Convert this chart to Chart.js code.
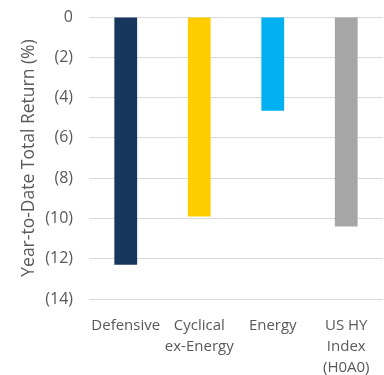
<!DOCTYPE html>
<html>
<head>
<meta charset="utf-8">
<script src="https://cdn.jsdelivr.net/npm/chart.js@4"></script>
<style>
  html, body { margin: 0; padding: 0; background: #ffffff; }
  #wrap { width: 384px; height: 375px; position: relative; }
</style>
</head>
<body>
<div id="wrap"><canvas id="c" width="384" height="375"></canvas></div>
<script>
// Sector groups and their year-to-date total return (%)
const categories = [
  ["Defensive"],
  ["Cyclical", "ex-Energy"],
  ["Energy"],
  ["US HY", "Index", "(H0A0)"]
];
const returns = [-12.3, -9.9, -4.65, -10.4];
const barColors = ["#17375E", "#FFCC00", "#00B0F0", "#A6A6A6"];
const yTicks = [0, -2, -4, -6, -8, -10, -12, -14];

const textColor = "#595959";
const fontFamily = "'Open Sans', 'Liberation Sans', sans-serif";

// Accounting-style labels: negatives in parentheses
function fmt(v) {
  if (v === 0) return "0";
  return v < 0 ? "(" + Math.abs(v) + ")" : String(v);
}

new Chart(document.getElementById("c"), {
  type: "bar",
  data: {
    labels: categories,
    datasets: [{
      data: returns,
      backgroundColor: barColors,
      borderWidth: 0,
      barPercentage: 0.31,
      categoryPercentage: 1.0
    }]
  },
  options: {
    responsive: false,
    animation: false,
    devicePixelRatio: 1,
    layout: { padding: { top: 17, right: 1, bottom: 0, left: 19 } },
    plugins: {
      legend: { display: false },
      tooltip: { enabled: false }
    },
    scales: {
      x: {
        grid: { display: false, drawTicks: false },
        border: { display: false },
        ticks: {
          color: textColor,
          padding: 16,
          maxRotation: 0,
          autoSkip: false,
          font: { family: fontFamily, size: 15, lineHeight: 1.4 }
        },
        afterFit(scale) {
          scale.height = 76;
          scale.paddingLeft = 0;
          scale.paddingRight = 0;
        }
      },
      y: {
        min: -14,
        max: 0,
        afterBuildTicks(scale) {
          scale.ticks = yTicks.map(v => ({ value: v }));
        },
        grid: { color: "#D9D9D9", lineWidth: 1, drawTicks: false },
        border: { display: false },
        ticks: {
          color: textColor,
          padding: 16,
          font: { family: fontFamily, size: 16 },
          callback: (v) => fmt(v)
        },
        title: {
          display: true,
          text: "Year-to-Date Total Return (%)",
          color: textColor,
          padding: 0,
          font: { family: fontFamily, size: 17.5, lineHeight: 1.2 }
        },
        afterFit(scale) {
          scale.width = 70;
          scale.paddingTop = 0;
          scale.paddingBottom = 0;
        }
      }
    }
  }
});
</script>
</body>
</html>
